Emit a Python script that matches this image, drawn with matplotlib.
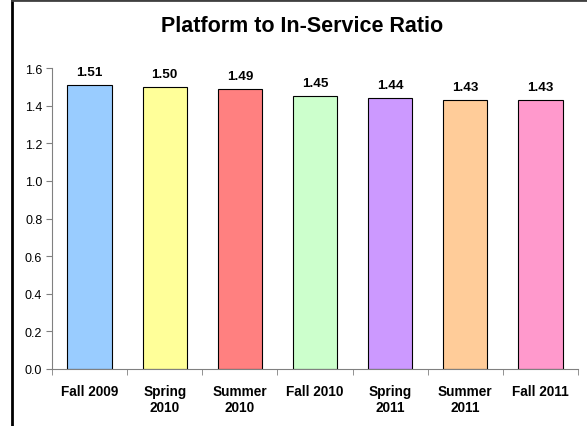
import matplotlib.pyplot as plt
from matplotlib.lines import Line2D

# chart data
terms = ['Fall 2009', 'Spring\n2010', 'Summer\n2010', 'Fall 2010', 'Spring\n2011', 'Summer\n2011', 'Fall 2011']
ratios = [1.51, 1.50, 1.49, 1.45, 1.44, 1.43, 1.43]
bar_colors = ['#99CCFF', '#FFFF99', '#FF8080', '#CCFFCC', '#CC99FF', '#FFCC99', '#FF99CC']

plt.rcParams['font.family'] = 'Liberation Sans'

fig = plt.figure(figsize=(5.87, 4.27), dpi=100)
ax = fig.add_axes([52 / 587, 1 - 370 / 427, 526 / 587, 301 / 427])

x = range(len(terms))
bars = ax.bar(x, ratios, width=0.59, color=bar_colors, edgecolor='black', linewidth=0.8)

for b, v in zip(bars, ratios):
    ax.annotate(f'{v:.2f}', (b.get_x() + b.get_width() / 2, v), xytext=(0, 7),
                textcoords='offset points', ha='center', va='baseline',
                fontsize=9.7, fontweight='bold')

ax.set_xlim(-0.5, len(terms) - 0.5)
ax.set_ylim(0, 1.6)
ax.set_yticks([0.0, 0.2, 0.4, 0.6, 0.8, 1.0, 1.2, 1.4, 1.6])
ax.set_yticklabels([f'{t:.1f}' for t in ax.get_yticks()], fontsize=9)
ax.set_xticks(list(x))
ax.set_xticklabels(terms, fontsize=9.8, fontweight='bold', linespacing=1.15)
ax.set_xticks([i - 0.5 for i in range(len(terms) + 1)], minor=True)
ax.tick_params(axis='x', which='major', length=0, pad=11)
ax.tick_params(axis='x', which='minor', length=4, color='#808080')
ax.tick_params(axis='y', length=4, color='#808080', pad=3)

for s in ['top', 'right']:
    ax.spines[s].set_visible(False)
for s in ['left', 'bottom']:
    ax.spines[s].set_color('#808080')

fig.text(302 / 587, 1 - 26 / 427, 'Platform to In-Service Ratio', ha='center', va='center',
         fontsize=15.5, fontweight='bold')

# outer frame (only left and top visible)
fig.add_artist(Line2D([12 / 587, 12 / 587], [0, 1], color='black', lw=2, transform=fig.transFigure))
fig.add_artist(Line2D([12 / 587, 1], [1 - 1 / 427, 1 - 1 / 427], color='#404040', lw=2, transform=fig.transFigure))

fig.savefig('out.png', dpi=100)
